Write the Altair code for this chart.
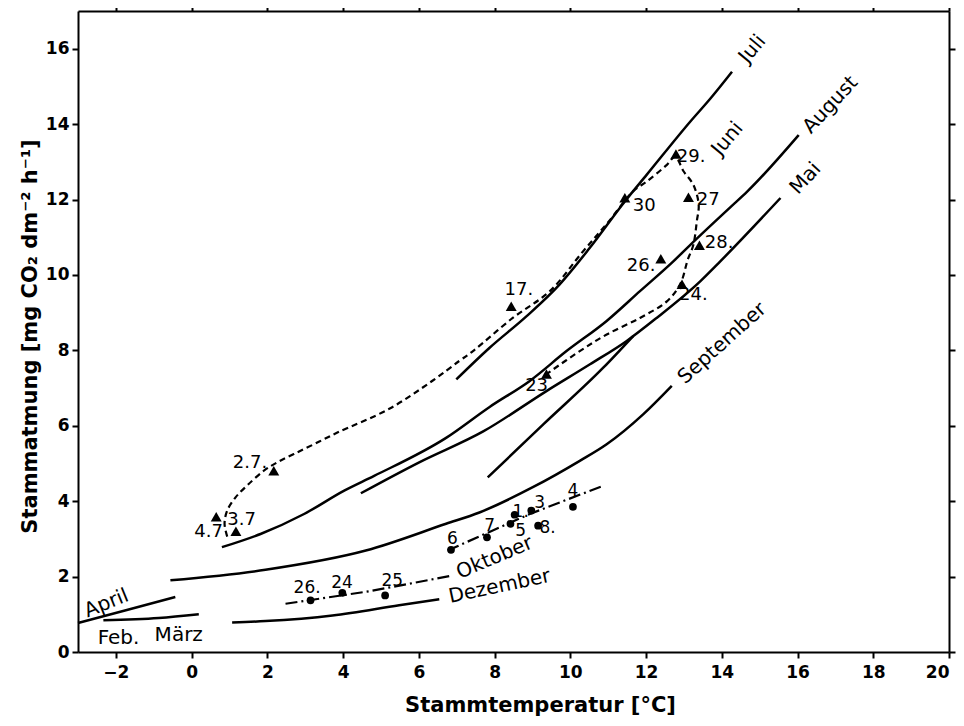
import altair as alt
import pandas as pd

# ---------------- axes ----------------
X_DOMAIN = [-3, 20]
Y_DOMAIN = [0, 17]
X_TICKS = [-2, 0, 2, 4, 6, 8, 10, 12, 14, 16, 18, 20]
Y_TICKS = [0, 2, 4, 6, 8, 10, 12, 14, 16]
X_TITLE = "Stammtemperatur [°C]"
Y_TITLE = "Stammatmung [mg CO₂ dm⁻² h⁻¹]"

# ---------------- solid monthly curves ----------------
JULI_X = [6.99, 7.87, 8.84, 9.72, 10.5, 11.44, 12.02, 13.17, 13.70, 14.27]
JULI_Y = [7.23, 8.07, 8.90, 9.75, 10.7, 11.95, 12.66, 14.07, 14.68, 15.39]
AUG_X = [0.80, 1.82, 2.97, 4.03, 4.82, 6.72, 7.87, 8.93, 9.90, 10.96, 11.84, 12.72, 13.17, 14.23, 14.67, 16.03]
AUG_Y = [2.78, 3.13, 3.66, 4.28, 4.67, 5.68, 6.50, 7.19, 7.98, 8.78, 9.57, 10.36, 10.80, 11.80, 12.21, 13.71]
MAI_X = [4.47, 6.01, 7.70, 9.37, 10.52, 11.49, 12.28, 13.43, 13.96, 15.55]
MAI_Y = [4.21, 5.03, 5.85, 6.92, 7.63, 8.25, 8.86, 9.83, 10.36, 12.04]
STEEP_X = [7.82, 9.30, 10.87, 11.66]
STEEP_Y = [4.63, 6.05, 7.54, 8.38]
SEPT_X = [-0.56, 1.95, 4.60, 6.72, 7.60, 9.01, 10.25, 10.96, 11.93, 12.68]
SEPT_Y = [1.90, 2.18, 2.69, 3.40, 3.70, 4.37, 5.07, 5.51, 6.31, 7.06]
DEZ_X = [1.07, 1.95, 3.72, 5.48, 6.54]
DEZ_Y = [0.78, 0.82, 0.97, 1.24, 1.40]
APRIL_X = [-3.0, -1.76, -0.43]
APRIL_Y = [0.77, 1.10, 1.46]
FEB_X = [-2.33, -0.87, 0.19]
FEB_Y = [0.84, 0.90, 1.00]

# ---------------- dash-dot curves ----------------
OKT_X = [6.76, 8.93, 10.87]
OKT_Y = [2.69, 3.66, 4.41]
NOV_X = [2.48, 4.69, 6.90]
NOV_Y = [1.28, 1.61, 2.03]

# ---------------- dashed daily path (Juni/Juli) ----------------
JUNI_X = [0.94, 0.87, 0.94, 1.16, 1.46, 1.91, 2.26, 2.70, 3.23, 3.85, 5.22, 6.37, 7.07, 7.43,
          8.48, 9.46, 10.34, 11.0, 11.66, 12.02, 12.55, 12.77, 12.99, 13.25, 13.39, 13.34,
          13.25, 13.10, 12.90, 12.55, 11.84, 10.96, 10.25, 9.37]
JUNI_Y = [3.06, 3.40, 3.75, 4.10, 4.41, 4.81, 5.03, 5.25, 5.51, 5.82, 6.45, 7.20, 7.72, 7.98,
          8.86, 9.57, 10.63, 11.4, 12.22, 12.48, 12.92, 13.14, 12.75, 12.39, 11.86, 11.42,
          10.80, 10.40, 9.75, 9.30, 8.86, 8.42, 7.98, 7.37]

# ---------------- markers ----------------
TRI_LABEL = ["2.7.", "3.7", "4.7", "17.", "30", "29.", "27", "28.", "26.", "24.", "23"]
TRI_X = [2.17, 1.17, 0.65, 8.44, 11.44, 12.79, 13.12, 13.41, 12.39, 12.95, 9.37]
TRI_Y = [4.81, 3.20, 3.59, 9.17, 12.05, 13.21, 12.06, 10.79, 10.43, 9.75, 7.37]
TRI_LX = [1.54, 1.32, 0.45, 8.64, 11.95, 13.19, 13.64, 13.93, 11.87, 13.25, 9.11]
TRI_LY = [5.02, 3.51, 3.19, 9.59, 11.82, 13.14, 12.00, 10.86, 10.23, 9.46, 7.06]

DOT_LABEL = ["6", "7", "5", "1.", "3", "8.", "4", "26.", "24", "25"]
DOT_X = [6.85, 7.80, 8.42, 8.53, 8.97, 9.15, 10.07, 3.14, 3.98, 5.11]
DOT_Y = [2.71, 3.04, 3.40, 3.64, 3.75, 3.35, 3.85, 1.37, 1.57, 1.50]
DOT_LX = [6.89, 7.87, 8.69, 8.69, 9.19, 9.40, 10.07, 3.05, 3.97, 5.30]
DOT_LY = [3.01, 3.35, 3.22, 3.70, 3.96, 3.30, 4.28, 1.69, 1.84, 1.87]

# ---------------- month labels ----------------
MONTH_TEXT = ["Juli", "Juni", "August", "Mai", "September", "Oktober", "Dezember", "April", "Feb.", "März"]
MONTH_X = [14.81, 14.15, 16.87, 16.21, 14.01, 8.00, 8.13, -2.25, -1.93, -0.34]
MONTH_Y = [15.99, 13.61, 14.51, 12.56, 8.19, 2.50, 1.74, 1.29, 0.36, 0.44]
MONTH_ANGLE = [310, 310, 313, 313, 318, 337, 348, 338, 0, 0]


def line_df(name, xs, ys):
    return pd.DataFrame({"series": name, "i": list(range(len(xs))), "x": xs, "y": ys})


solid = pd.concat([
    line_df("Juli", JULI_X, JULI_Y),
    line_df("August", AUG_X, AUG_Y),
    line_df("Mai", MAI_X, MAI_Y),
    line_df("steep", STEEP_X, STEEP_Y),
    line_df("September", SEPT_X, SEPT_Y),
    line_df("Dezember", DEZ_X, DEZ_Y),
    line_df("April", APRIL_X, APRIL_Y),
    line_df("Feb", FEB_X, FEB_Y),
], ignore_index=True)
dashdot = pd.concat([line_df("Oktober", OKT_X, OKT_Y), line_df("November", NOV_X, NOV_Y)], ignore_index=True)
dashed = line_df("Juni", JUNI_X, JUNI_Y)
tri = pd.DataFrame({"label": TRI_LABEL, "x": TRI_X, "y": TRI_Y, "lx": TRI_LX, "ly": TRI_LY})
dots = pd.DataFrame({"label": DOT_LABEL, "x": DOT_X, "y": DOT_Y, "lx": DOT_LX, "ly": DOT_LY})
months = pd.DataFrame({"text": MONTH_TEXT, "x": MONTH_X, "y": MONTH_Y, "angle": MONTH_ANGLE})

FONT = "DejaVu Sans"
xs = alt.Scale(domain=X_DOMAIN, nice=False, zero=False)
ys = alt.Scale(domain=Y_DOMAIN, nice=False, zero=False)

common_axis = dict(domainColor="black", domainWidth=2, tickColor="black", tickWidth=2,
                   tickSize=6, grid=False, labelFont=FONT, labelFontSize=17, labelColor="black",
                   labelFontWeight="bold", titleFont=FONT, titleFontSize=21, titleColor="black",
                   titleFontWeight="bold")

X0 = alt.X("x:Q", scale=xs, axis=None)
Y0 = alt.Y("y:Q", scale=ys, axis=None)

axes_bl = alt.Chart(solid).mark_point(opacity=0).encode(
    x=alt.X("x:Q", scale=xs, axis=alt.Axis(orient="bottom", values=X_TICKS, title=X_TITLE,
                                          labelPadding=6, titleX=462, titleY=42,
                                          titleBaseline="top", **common_axis)),
    y=alt.Y("y:Q", scale=ys, axis=alt.Axis(orient="left", values=Y_TICKS, title=Y_TITLE,
                                          labelPadding=3, titleX=-38, titleY=325,
                                          **common_axis)),
)
axes_tr = alt.Chart(solid).mark_point(opacity=0).encode(
    x=alt.X("x:Q", scale=xs, axis=alt.Axis(orient="top", values=X_TICKS, labels=False, title="",
                                          **common_axis)),
    y=alt.Y("y:Q", scale=ys, axis=alt.Axis(orient="right", values=Y_TICKS, labels=False, title="",
                                          **common_axis)),
)

solid_layer = alt.Chart(solid).mark_line(color="black", strokeWidth=2.5, interpolate="monotone").encode(
    x=X0, y=Y0, detail="series:N", order="i:Q")
dashdot_layer = alt.Chart(dashdot).mark_line(color="black", strokeWidth=2.2, strokeDash=[12, 4, 2, 4]).encode(
    x=X0, y=Y0, detail="series:N", order="i:Q")
dashed_layer = alt.Chart(dashed).mark_line(color="black", strokeWidth=2.2, strokeDash=[6, 4],
                                           interpolate="catmull-rom").encode(
    x=X0, y=Y0, order="i:Q")
tri_layer = alt.Chart(tri).mark_point(shape="triangle-up", filled=True, color="black", size=120,
                                      opacity=1).encode(x=X0, y=Y0)
tri_text = alt.Chart(tri).mark_text(font=FONT, fontSize=18, color="black").encode(
    x=alt.X("lx:Q", scale=xs, axis=None), y=alt.Y("ly:Q", scale=ys, axis=None), text="label:N")
dot_layer = alt.Chart(dots).mark_circle(color="black", size=60, opacity=1).encode(x=X0, y=Y0)
dot_text = alt.Chart(dots).mark_text(font=FONT, fontSize=17, color="black").encode(
    x=alt.X("lx:Q", scale=xs, axis=None), y=alt.Y("ly:Q", scale=ys, axis=None), text="label:N")
month_text = alt.Chart(months).mark_text(font=FONT, fontSize=20, color="black").encode(
    x=X0, y=Y0, text="text:N", angle=alt.Angle("angle:Q", scale=None))

chart = alt.layer(
    axes_bl, axes_tr, solid_layer, dashdot_layer, dashed_layer, tri_layer, tri_text,
    dot_layer, dot_text, month_text
).resolve_axis(x="independent", y="independent").properties(
    width=871, height=641,
    padding={"left": 70, "top": 3, "right": 7, "bottom": 66},
    autosize=alt.AutoSizeParams(type="none"),
    background="white",
).configure_view(strokeWidth=0)

chart.save("out.html", embed_options={"renderer": "svg", "actions": False})
